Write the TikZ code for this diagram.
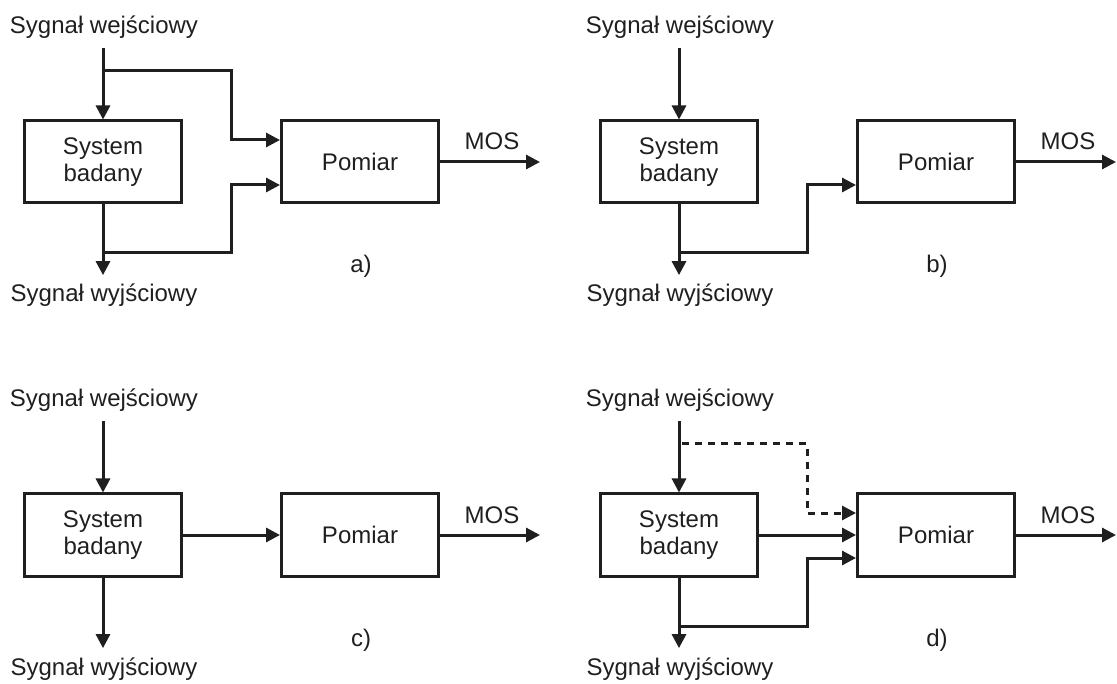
\documentclass[tikz,border=0pt]{standalone}
\usepackage{fontspec}
\setmainfont{Liberation Sans}
\usetikzlibrary{arrows.meta,positioning}

\begin{document}
\begin{tikzpicture}[
            x=1pt, y=-1pt,
            font=\fontsize{24}{27}\selectfont,
            color={black!88},
            box/.style={rectangle, draw, line width=3pt, minimum width=157pt, minimum height=82pt, align=center, inner sep=0pt},
            arrow/.style={-{Triangle[length=14pt,width=14pt]}, line width=3pt},
            dotarrow/.style={arrow, dash pattern=on 7pt off 6pt},
            signal/.style={anchor=base, inner sep=0pt}
            ]

            \useasboundingbox (0,0) rectangle (1117,684);

            % Panel a)
            \begin{scope}
            \node[box] (sysA) at (103,162) {System\\badany};
            \node[box, right=97pt of sysA] (pomA) {Pomiar};
            \node[signal] (inA) at (104,34) {Sygnał wejściowy};
            \node[signal] (outA) at (104,302) {Sygnał wyjściowy};
            \node[signal] (mosLabA) at (492,150) {MOS};
            \node[signal] (labA) at (361,273) {a)};
            \coordinate (inSplitA) at (103,71);
            \coordinate (outSplitA) at (103,253);
            \coordinate (mosA) at (540,162);

            \draw[arrow, shorten <=9pt] (inA.south -| sysA) -- (sysA);
            \draw[arrow, shorten >=9pt] (sysA) -- (outA.north -| sysA);
            \draw[arrow] (inSplitA) -| ([xshift=-49pt, yshift=22pt]pomA.west) -- ([yshift=22pt]pomA.west);
            \draw[arrow] (outSplitA) -| ([xshift=-49pt, yshift=-23pt]pomA.west) -- ([yshift=-23pt]pomA.west);
            \draw[arrow] (pomA) -- (mosA);
            \end{scope}

            % Panel b)
            \begin{scope}[shift={(576,0)}]
            \node[box] (sysB) at (103,162) {System\\badany};
            \node[box, right=97pt of sysB] (pomB) {Pomiar};
            \node[signal] (inB) at (104,34) {Sygnał wejściowy};
            \node[signal] (outB) at (104,302) {Sygnał wyjściowy};
            \node[signal] (mosLabB) at (492,150) {MOS};
            \node[signal] (labB) at (361,273) {b)};
            \coordinate (outSplitB) at (103,253);
            \coordinate (mosB) at (540,162);

            \draw[arrow, shorten <=9pt] (inB.south -| sysB) -- (sysB);
            \draw[arrow, shorten >=9pt] (sysB) -- (outB.north -| sysB);
            \draw[arrow] (outSplitB) -| ([xshift=-49pt, yshift=-23pt]pomB.west) -- ([yshift=-23pt]pomB.west);
            \draw[arrow] (pomB) -- (mosB);
            \end{scope}

            % Panel c)
            \begin{scope}[shift={(0,373)}]
            \node[box] (sysC) at (103,162) {System\\badany};
            \node[box, right=97pt of sysC] (pomC) {Pomiar};
            \node[signal] (inC) at (104,34) {Sygnał wejściowy};
            \node[signal] (outC) at (104,302) {Sygnał wyjściowy};
            \node[signal] (mosLabC) at (492,150) {MOS};
            \node[signal] (labC) at (361,273) {c)};
            \coordinate (mosC) at (540,162);

            \draw[arrow, shorten <=9pt] (inC.south -| sysC) -- (sysC);
            \draw[arrow, shorten >=9pt] (sysC) -- (outC.north -| sysC);
            \draw[arrow] (sysC) -- (pomC);
            \draw[arrow] (pomC) -- (mosC);
            \end{scope}

            % Panel d)
            \begin{scope}[shift={(576,373)}]
            \node[box] (sysD) at (103,162) {System\\badany};
            \node[box, right=97pt of sysD] (pomD) {Pomiar};
            \node[signal] (inD) at (104,34) {Sygnał wejściowy};
            \node[signal] (outD) at (104,302) {Sygnał wyjściowy};
            \node[signal] (mosLabD) at (492,150) {MOS};
            \node[signal] (labD) at (361,273) {d)};
            \coordinate (inSplitD) at (106,71);
            \coordinate (outSplitD) at (103,253);
            \coordinate (mosD) at (540,162);

            \draw[arrow, shorten <=9pt] (inD.south -| sysD) -- (sysD);
            \draw[arrow, shorten >=9pt] (sysD) -- (outD.north -| sysD);
            \draw[dotarrow] (inSplitD) -| ([xshift=-49pt, yshift=22pt]pomD.west) -- ([yshift=22pt]pomD.west);
            \draw[arrow] (sysD) -- (pomD);
            \draw[arrow] (outSplitD) -| ([xshift=-49pt, yshift=-23pt]pomD.west) -- ([yshift=-23pt]pomD.west);
            \draw[arrow] (pomD) -- (mosD);
            \end{scope}

        \end{tikzpicture}
\end{document}
